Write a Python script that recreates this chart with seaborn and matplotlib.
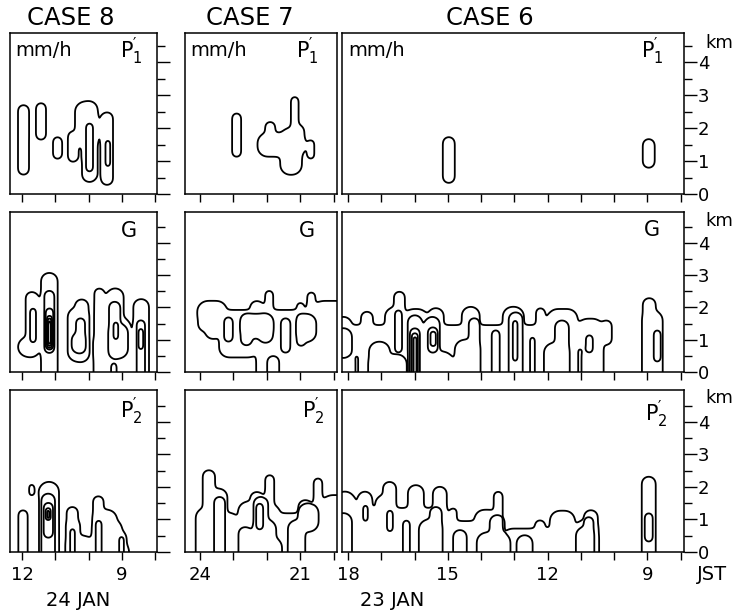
import numpy as np
import matplotlib
matplotlib.use("Agg")
import matplotlib.pyplot as plt
import seaborn as sns

# Time window (hour, JST) of each case; time runs right-to-left along the axis
case8_window = (12.36, 7.95)
case7_window = (24.45, 19.90)
case6_window = (18.18, 7.90)

# Labelled hours on the bottom time axes
case8_hour_labels = {12: "12", 9: "9"}
case7_hour_labels = {24: "24", 21: "21"}
case6_hour_labels = {18: "18", 15: "15", 12: "12", 9: "9"}

# Rain-rate regions in the time-height plane:
# (from hour, to hour, base km, top km, contour level)
# level 0 is a gap in the outermost contour; a base below 0 km reaches the ground
case8_p1 = [
    (12.12, 11.79, 0.58, 2.70, 1), (11.58, 11.28, 1.64, 2.76, 1),
    (11.07, 10.80, 1.06, 1.73, 1), (10.41, 9.75, 1.43, 2.80, 1),
    (10.20, 9.75, 0.36, 2.80, 1), (10.62, 10.32, 0.97, 1.90, 1),
    (10.08, 9.87, 0.67, 2.15, 2), (9.63, 9.27, 0.27, 2.48, 1),
    (9.50, 9.35, 0.82, 1.64, 2),
]
case7_p1 = [
    (23.04, 22.77, 1.12, 2.45, 1), (22.28, 20.88, 1.13, 1.85, 1),
    (21.60, 20.95, 0.58, 2.00, 1), (21.28, 20.88, 1.28, 2.10, 1),
    (21.28, 21.05, 1.50, 2.95, 1), (22.05, 21.75, 1.50, 2.19, 1),
    (20.79, 20.58, 1.06, 1.64, 1),
]
case6_p1 = [
    (15.15, 14.79, 0.33, 1.73, 1), (9.14, 8.78, 0.79, 1.67, 1),
]

case8_g = [
    (12.12, 11.52, 0.47, 1.08, 1), (11.89, 11.52, 0.47, 2.48, 1),
    (11.76, 11.58, 0.90, 1.98, 2),
    (11.43, 10.93, -0.5, 3.07, 1), (11.33, 11.03, 0.58, 2.52, 2),
    (11.29, 11.06, 0.68, 1.98, 3), (11.25, 11.10, 0.74, 1.74, 4),
    (11.23, 11.12, 0.80, 1.66, 5), (11.215, 11.135, 0.86, 1.58, 6),
    (11.20, 11.15, 0.92, 1.50, 7),
    (10.63, 10.01, 0.32, 2.00, 1), (10.41, 10.01, 0.32, 2.25, 1),
    (10.38, 10.11, 0.59, 1.67, 2), (10.51, 10.11, 0.59, 1.20, 2),
    (9.83, 9.53, -0.5, 2.59, 1), (9.46, 8.95, -0.5, 2.59, 1),
    (9.83, 8.95, -0.5, 1.20, 1), (9.46, 8.76, -0.5, 1.70, 1),
    (9.39, 9.05, 0.42, 2.18, 2), (9.39, 8.82, 0.42, 1.50, 2),
    (9.26, 9.11, 0.99, 1.56, 3), (9.33, 9.16, -0.5, 0.28, 2),
    (8.66, 8.19, -0.5, 2.26, 1), (8.56, 8.31, -0.5, 1.61, 2),
    (8.51, 8.36, 0.68, 1.36, 3),
]
case7_g = [
    (24.06, 23.60, 1.25, 2.10, 1), (23.85, 23.37, 1.02, 2.10, 1),
    (23.43, 22.26, 0.45, 1.92, 1), (22.32, 19.60, -0.5, 1.92, 1),
    (24.06, 23.20, 1.50, 2.20, 1), (22.50, 22.10, 1.50, 2.20, 1),
    (22.05, 21.81, 1.50, 2.52, 1), (21.10, 20.90, 1.50, 2.15, 1),
    (20.79, 20.55, 1.50, 2.47, 1), (20.60, 19.60, 1.50, 2.20, 1),
    (21.99, 21.63, -0.5, 0.50, 0),
    (23.28, 23.02, 0.93, 1.70, 2), (22.78, 21.82, 1.05, 1.80, 2),
    (22.78, 22.44, 0.82, 1.80, 2), (22.26, 21.82, 0.90, 1.80, 2),
    (21.58, 21.30, 0.59, 1.67, 2), (21.10, 20.52, 0.93, 1.80, 2),
    (21.10, 20.85, 0.80, 1.80, 2),
]
case6_g = [
    (18.40, 10.34, -0.5, 1.45, 1), (11.10, 10.34, -0.5, 1.65, 1),
    (10.40, 10.07, 0.84, 1.60, 1),
    (18.40, 17.88, -0.5, 1.71, 1), (17.61, 17.25, -0.5, 1.87, 1),
    (16.89, 16.32, -0.5, 2.00, 1), (16.62, 16.29, -0.5, 2.49, 1),
    (16.32, 15.60, -0.5, 1.95, 1), (15.60, 15.12, -0.5, 1.98, 1),
    (14.58, 14.04, -0.5, 2.02, 1), (13.35, 12.71, -0.5, 2.02, 1),
    (12.35, 12.08, -0.5, 1.98, 1), (12.00, 11.10, -0.5, 1.95, 1),
    (9.14, 8.75, -0.5, 2.29, 1), (9.14, 8.54, -0.5, 1.90, 1),
    (17.37, 16.74, -0.5, 0.94, 0), (17.37, 16.23, -0.5, 0.55, 0),
    (18.40, 17.88, 0.43, 1.36, 2), (17.79, 17.68, -0.5, 0.53, 2),
    (16.59, 16.38, 0.59, 1.92, 2),
    (16.20, 15.78, -0.5, 1.76, 2), (16.14, 15.84, -0.5, 1.36, 3),
    (16.08, 15.90, -0.5, 1.20, 4), (16.03, 15.94, -0.5, 1.08, 5),
    (15.69, 15.24, -0.5, 1.71, 2), (15.69, 14.85, -0.5, 0.63, 2),
    (15.60, 15.30, 0.59, 1.39, 3), (15.52, 15.36, 0.80, 1.25, 4),
    (14.79, 14.04, -0.5, 1.00, 2), (14.37, 14.04, -0.5, 1.67, 2),
    (13.68, 13.44, -0.5, 1.30, 2),
    (13.17, 12.75, -0.5, 1.85, 2), (13.05, 12.90, 0.32, 1.61, 3),
    (12.53, 12.38, -0.5, 1.09, 2),
    (12.11, 11.36, -0.5, 0.90, 2), (11.78, 11.36, -0.5, 1.60, 2),
    (11.09, 10.97, -0.5, 0.74, 2), (10.85, 10.64, 0.59, 1.15, 2),
    (8.81, 8.60, 0.31, 1.30, 2),
]

case8_p2 = [
    (12.11, 11.83, -0.5, 1.29, 1), (11.79, 11.63, 1.72, 2.09, 1),
    (11.49, 10.89, -0.5, 2.16, 1),
    (10.66, 10.32, -0.5, 1.39, 1), (10.66, 10.26, -0.5, 1.00, 1),
    (10.66, 9.87, -0.5, 0.50, 1), (9.87, 9.55, -0.5, 1.72, 1),
    (9.87, 9.15, -0.5, 1.30, 1), (9.87, 9.00, -0.5, 1.00, 1),
    (9.87, 8.86, -0.5, 0.70, 1), (9.87, 8.79, -0.5, 0.30, 1),
    (11.42, 11.01, -0.5, 1.80, 2), (11.35, 11.07, 0.43, 1.52, 3),
    (11.29, 11.14, 0.98, 1.35, 4), (11.25, 11.18, 1.03, 1.28, 5),
    (10.56, 10.41, -0.5, 0.73, 2), (9.79, 9.61, -0.5, 0.98, 2),
    (9.09, 8.94, -0.5, 0.49, 2),
]
case7_p2 = [
    (24.13, 23.55, -0.5, 1.35, 1), (23.92, 23.55, -0.5, 2.52, 1),
    (23.70, 23.18, -0.5, 1.95, 1), (23.30, 22.90, -0.5, 1.20, 1),
    (23.00, 22.72, -0.5, 0.83, 1), (22.86, 19.60, -0.5, 1.19, 1),
    (22.86, 22.20, -0.5, 1.55, 1), (22.50, 22.10, -0.5, 1.85, 1),
    (22.05, 21.78, -0.5, 2.37, 1), (22.14, 21.60, -0.5, 1.45, 1),
    (21.06, 20.64, -0.5, 1.60, 1), (20.60, 20.34, -0.5, 2.27, 1),
    (20.34, 19.60, -0.5, 1.75, 1),
    (23.58, 23.25, -0.5, 1.70, 2), (22.85, 22.45, -0.5, 0.77, 2),
    (22.40, 21.96, -0.5, 1.70, 2), (22.40, 21.72, -0.5, 1.00, 2),
    (22.40, 21.55, -0.5, 0.45, 2), (22.32, 22.11, 0.68, 1.50, 3),
    (21.37, 20.85, -0.5, 0.98, 2), (21.07, 20.45, 0.62, 1.50, 2),
]
case6_p2 = [
    (18.40, 17.79, -0.5, 1.86, 1),
    (17.70, 15.03, -0.5, 1.35, 1), (17.70, 17.28, -0.5, 1.86, 1),
    (17.16, 16.68, -0.5, 1.75, 1), (16.95, 16.55, -0.5, 2.16, 1),
    (16.20, 15.72, -0.5, 2.06, 1), (15.45, 15.03, -0.5, 2.01, 1),
    (14.94, 14.73, -0.5, 1.35, 1), (14.94, 13.68, -0.5, 0.95, 1),
    (14.20, 13.50, -0.5, 1.30, 1), (13.62, 13.35, -0.5, 1.86, 1),
    (13.35, 10.49, -0.5, 0.72, 1), (12.38, 12.08, -0.5, 0.98, 1),
    (11.93, 11.18, -0.5, 1.27, 1), (11.18, 10.49, -0.5, 0.98, 1),
    (10.91, 10.49, -0.5, 1.29, 1),
    (9.17, 8.75, -0.5, 2.32, 1),
    (18.40, 17.88, -0.5, 1.20, 2), (17.55, 17.40, 0.93, 1.45, 2),
    (16.83, 16.65, 0.62, 1.29, 2), (16.35, 16.14, -0.5, 0.98, 2),
    (15.87, 15.18, -0.5, 1.00, 2), (15.54, 15.18, -0.5, 1.39, 2),
    (14.84, 14.43, -0.5, 0.68, 2), (14.13, 13.12, -0.5, 0.60, 2),
    (13.74, 13.29, -0.5, 1.14, 2), (12.93, 12.45, -0.5, 0.52, 2),
    (11.15, 10.62, -0.5, 0.77, 2), (10.91, 10.62, -0.5, 1.08, 2),
    (9.08, 8.84, 0.31, 1.20, 2),
]

GRID_STEP = 0.012


def rounded_box_distance(T, Z, t0, t1, z0, z1):
    """Signed distance to a rounded rectangle in hour/km units."""
    ct, cz = 0.5 * (t0 + t1), 0.5 * (z0 + z1)
    ht, hz = 0.5 * abs(t0 - t1), 0.5 * abs(z1 - z0)
    r = min(0.3, ht, hz)
    qt = np.abs(T - ct) - ht + r
    qz = np.abs(Z - cz) - hz + r
    outside = np.hypot(np.maximum(qt, 0), np.maximum(qz, 0))
    inside = np.minimum(np.maximum(qt, qz), 0)
    return outside + inside - r


def soft_union(dists, k=0.035):
    d = np.stack(dists)
    m = d.min(axis=0)
    return m - k * np.log(np.exp(-(d - m) / k).sum(axis=0))


def box_blur(a, r, axis):
    a = np.moveaxis(a, axis, -1)
    p = np.pad(a, [(0, 0), (r + 1, r)], mode="edge")
    c = np.cumsum(p, axis=-1)
    out = (c[:, 2 * r + 1:] - c[:, :-(2 * r + 1)]) / (2 * r + 1)
    return np.moveaxis(out, -1, axis)


def rounded_outline(d, r=5):
    """Ease the corners of a distance field so the outlines curve smoothly."""
    for _ in range(2):
        d = box_blur(d, r, 0)
        d = box_blur(d, r, 1)
    return d


def rain_field(regions, T, Z):
    field = np.zeros_like(T)
    top = max(r[4] for r in regions)
    gaps = [r for r in regions if r[4] == 0]
    for level in range(1, top + 1):
        members = [r for r in regions if r[4] == level]
        if not members:
            continue
        d = soft_union([rounded_box_distance(T, Z, *r[:4]) for r in members])
        if level == 1 and gaps:
            g = soft_union([rounded_box_distance(T, Z, *r[:4]) for r in gaps])
            d = -soft_union([-d, g])
        d = rounded_outline(d, 5 if level < 4 else 2)
        field += 1.0 / (1.0 + np.exp(np.clip(d / GRID_STEP, -60, 60)))
    return field


sns.set_theme(style="ticks", rc={
    "axes.edgecolor": "black", "axes.linewidth": 1.1,
    "xtick.color": "black", "ytick.color": "black",
    "text.color": "black", "axes.facecolor": "white",
    "figure.facecolor": "white",
})
plt.rcParams["font.family"] = ["DejaVu Sans"]
plt.rcParams["mathtext.default"] = "regular"

W, H = 736, 614
fig = plt.figure(figsize=(W / 100, H / 100), dpi=100)

col_px = [(10, 157), (185, 337), (342, 684)]
row_px = [(33, 194), (212, 372), (390, 552)]
row_top_km = [4.88, 4.95, 4.98]

windows = [case8_window, case7_window, case6_window]
hour_labels = [case8_hour_labels, case7_hour_labels, case6_hour_labels]
grid_data = [
    [case8_p1, case7_p1, case6_p1],
    [case8_g, case7_g, case6_g],
    [case8_p2, case7_p2, case6_p2],
]


def fx(x):
    return x / W


def fy(y):
    return 1 - y / H


for i, (ytop, ybot) in enumerate(row_px):
    for j, (x0, x1) in enumerate(col_px):
        ax = fig.add_axes([fx(x0), fy(ybot), (x1 - x0) / W, (ybot - ytop) / H])
        t_left, t_right = windows[j]
        t = np.arange(t_right - 0.3, t_left + 0.3, GRID_STEP)
        z = np.arange(0.0, 3.6, GRID_STEP)
        T, Z = np.meshgrid(t, z)
        F = rain_field(grid_data[i][j], T, Z)
        ax.contour(T, Z, F, levels=np.arange(0.5, 8.0, 1.0),
                   colors="black", linewidths=1.3)
        ax.set_xlim(t_left, t_right)
        ax.set_ylim(0, row_top_km[i])

        hours = np.arange(np.ceil(t_right), np.floor(t_left) + 1)
        ax.set_xticks(hours)
        if i == 2:
            ax.set_xticklabels([hour_labels[j].get(int(h), "") for h in hours])
        else:
            ax.set_xticklabels([])
        ax.tick_params(axis="x", direction="out", length=6, width=1.0,
                       labelsize=13, pad=4, bottom=True, top=False)

        if j == 1:
            ax.set_yticks([])
        else:
            ax.yaxis.tick_right()
            ax.set_yticks(np.arange(0, 5))
            ax.set_yticks(np.arange(0.5, 5.0, 1.0), minor=True)
            ax.tick_params(axis="y", which="major", direction="out", length=9.5,
                           width=1.0, labelsize=13, pad=0.5, left=False, right=True)
            ax.tick_params(axis="y", which="minor", direction="out", length=6,
                           width=1.0, left=False, right=True)
            if j == 0:
                ax.set_yticklabels([])
            else:
                ax.set_yticklabels([str(k) for k in range(5)])
        for s in ax.spines.values():
            s.set_linewidth(1.1)
            s.set_color("black")

# Case titles
for xc, name in [(71, "CASE 8"), (250, "CASE 7"), (490, "CASE 6")]:
    fig.text(fx(xc), fy(18), name, ha="center", va="center", fontsize=17.5)

# Rain-rate unit in the top row
for xl in (15, 190, 348):
    fig.text(fx(xl), fy(50), "mm/h", ha="left", va="center", fontsize=14)

# Panel tags
tag_pos = [
    [(131, 51), (307, 51), (652, 51)],
    [(129, 231), (307, 231), (652, 230)],
    [(131, 411), (313, 411), (656, 414)],
]
tags = [r"$P_1^{\prime}$", "G", r"$P_2^{\prime}$"]
for i in range(3):
    for (xc, yc) in tag_pos[i]:
        fig.text(fx(xc), fy(yc), tags[i], ha="center", va="center", fontsize=15)

# Height unit beside each row
for yk in (43, 221, 398):
    fig.text(fx(705), fy(yk), "km", ha="left", va="center", fontsize=13)

fig.text(fx(697), fy(575), "JST", ha="left", va="center", fontsize=14)
fig.text(fx(78), fy(600), "24 JAN", ha="center", va="center", fontsize=14)
fig.text(fx(392), fy(600), "23 JAN", ha="center", va="center", fontsize=14)

fig.savefig("out.png", dpi=100, facecolor="white")
